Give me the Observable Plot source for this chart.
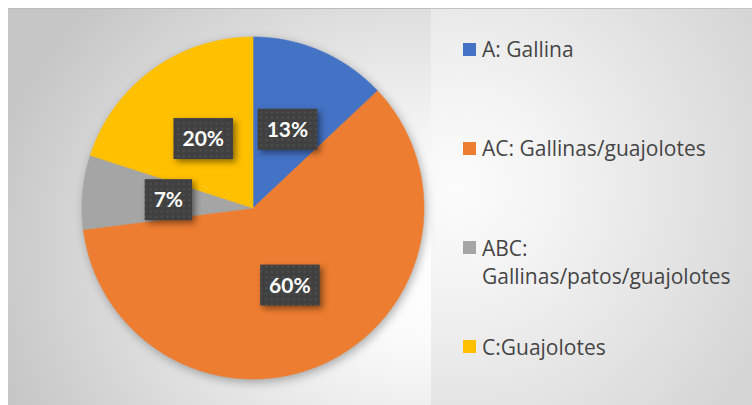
<!DOCTYPE html>
<html>
<head>
<meta charset="utf-8">
<script src="https://cdn.jsdelivr.net/npm/d3@7"></script>
<script src="https://cdn.jsdelivr.net/npm/@observablehq/plot@0.6"></script>
<style>
html, body { margin: 0; padding: 0; background: #ffffff; }
#wrap { position: relative; width: 752px; height: 405px; overflow: hidden; font-family: "Open Sans", Lato, sans-serif; }
#left { position: absolute; left: 8px; top: 8px; width: 423px; height: 397px;
  background: radial-gradient(ellipse 105% 95% at 98% 62%, #ffffff 0%, #fbfbfb 22%, #e2e2e2 60%, #c6c6c6 100%);
  border-top: 1px solid #bcbcbc; box-sizing: border-box; }
#right { position: absolute; left: 431px; top: 8px; width: 321px; height: 397px;
  background: radial-gradient(ellipse 105% 85% at 8% 45%, #fcfcfc 0%, #f3f3f3 30%, #d6d6d6 100%);
  border-top: 1px solid #c4c4c4; box-sizing: border-box; }
#chart { position: absolute; left: 0; top: 0; }
#chart svg { background: transparent !important; }
#chart g.slices { filter: drop-shadow(2px 3px 5px rgba(0,0,0,0.30)); }
#chart rect.lbl { filter: drop-shadow(3px 3px 3px rgba(0,0,0,0.45)); }
#legend { position: absolute; left: 463px; top: 35px; }
.item { height: 99.3px; display: flex; align-items: flex-start; }
.sw { width: 13px; height: 13px; margin-top: 7.5px; margin-right: 6px; flex: none; }
.lt { font-size: 21px; line-height: 28.5px; color: #454545; max-width: 270px; }
</style>
</head>
<body>
<div id="wrap">
  <div id="left"></div>
  <div id="right"></div>
  <div id="chart"></div>
  <div id="legend"></div>
</div>
<script>
// ---- data ----
const categories = ["A: Gallina", "AC: Gallinas/guajolotes", "ABC: Gallinas/patos/guajolotes", "C:Guajolotes"];
const values = [13, 60, 7, 20];
const labels = ["13%", "60%", "7%", "20%"];
const colors = ["#4472C4", "#ED7D31", "#A5A5A5", "#FFC000"];

// ---- pie geometry from values ----
const rows = categories.map((name, i) => ({name, value: values[i], label: labels[i]}));
const arcs = d3.pie().sort(null).value(d => d.value)(rows);
const slicePts = [];
for (const a of arcs) {
  const n = Math.max(2, Math.ceil((a.endAngle - a.startAngle) / (Math.PI / 360)) + 1);
  for (let k = 0; k < n; k++) {
    const t = a.startAngle + (a.endAngle - a.startAngle) * k / (n - 1);
    slicePts.push({name: a.data.name, x: Math.sin(t), y: Math.cos(t)});
  }
}
const labelPts = arcs.map(a => {
  const m = (a.startAngle + a.endAngle) / 2;
  return {name: a.data.name, label: a.data.label, x: 0.5 * Math.sin(m), y: 0.5 * Math.cos(m)};
});

const plot = Plot.plot({
  width: 752,
  height: 405,
  margin: 0,
  x: {domain: [-1, 1], range: [82, 424], axis: null},
  y: {domain: [-1, 1], range: [379, 37], axis: null},
  color: {domain: categories, range: colors},
  style: {background: "transparent"},
  marks: [
    Plot.area(slicePts, {x1: "x", y1: "y", x2: d => 0, y2: d => 0, z: "name", fill: "name", stroke: "name", strokeWidth: 0.6, curve: "linear", className: "slices"}),
    Plot.text(labelPts, {x: "x", y: "y", text: "label", fill: "white", fontSize: 21, fontWeight: "bold", fontFamily: "Lato", className: "lbltext"})
  ]
});
document.getElementById("chart").appendChild(plot);

// ---- label boxes behind the texts ----
const svg = d3.select(plot);
const defs = svg.insert("defs", ":first-child");
const pat = defs.append("pattern").attr("id", "dots").attr("patternUnits", "userSpaceOnUse").attr("width", 5.5).attr("height", 5.5);
pat.append("rect").attr("width", 5.5).attr("height", 5.5).attr("fill", "#404040");
pat.append("rect").attr("x", 1.5).attr("y", 1.5).attr("width", 1.6).attr("height", 1.6).attr("fill", "#585858");
const textG = plot.querySelector("g.lbltext") || plot.querySelector('g[aria-label="text"]');
const boxG = document.createElementNS("http://www.w3.org/2000/svg", "g");
textG.parentNode.insertBefore(boxG, textG);
textG.querySelectorAll("text").forEach(t => {
  const b = t.getBBox();
  const ctm = t.getCTM(), gctm = boxG.getCTM();
  const cx = b.x + b.width / 2, cy = b.y + b.height / 2;
  const pt = plot.createSVGPoint(); pt.x = cx; pt.y = cy;
  const p = pt.matrixTransform(ctm).matrixTransform(gctm.inverse());
  const w = b.width + 18, h = 41;
  d3.select(boxG).append("rect").attr("class", "lbl")
    .attr("x", p.x - w / 2).attr("y", p.y - h / 2 + 1)
    .attr("width", w).attr("height", h).attr("fill", "url(#dots)");
});

// ---- legend from the color scale ----
const cs = plot.scale("color");
const leg = d3.select("#legend");
cs.domain.forEach((d, i) => {
  const it = leg.append("div").attr("class", "item");
  it.append("div").attr("class", "sw").style("background", cs.range[i]);
  it.append("div").attr("class", "lt").text(d);
});
</script>
</body>
</html>
